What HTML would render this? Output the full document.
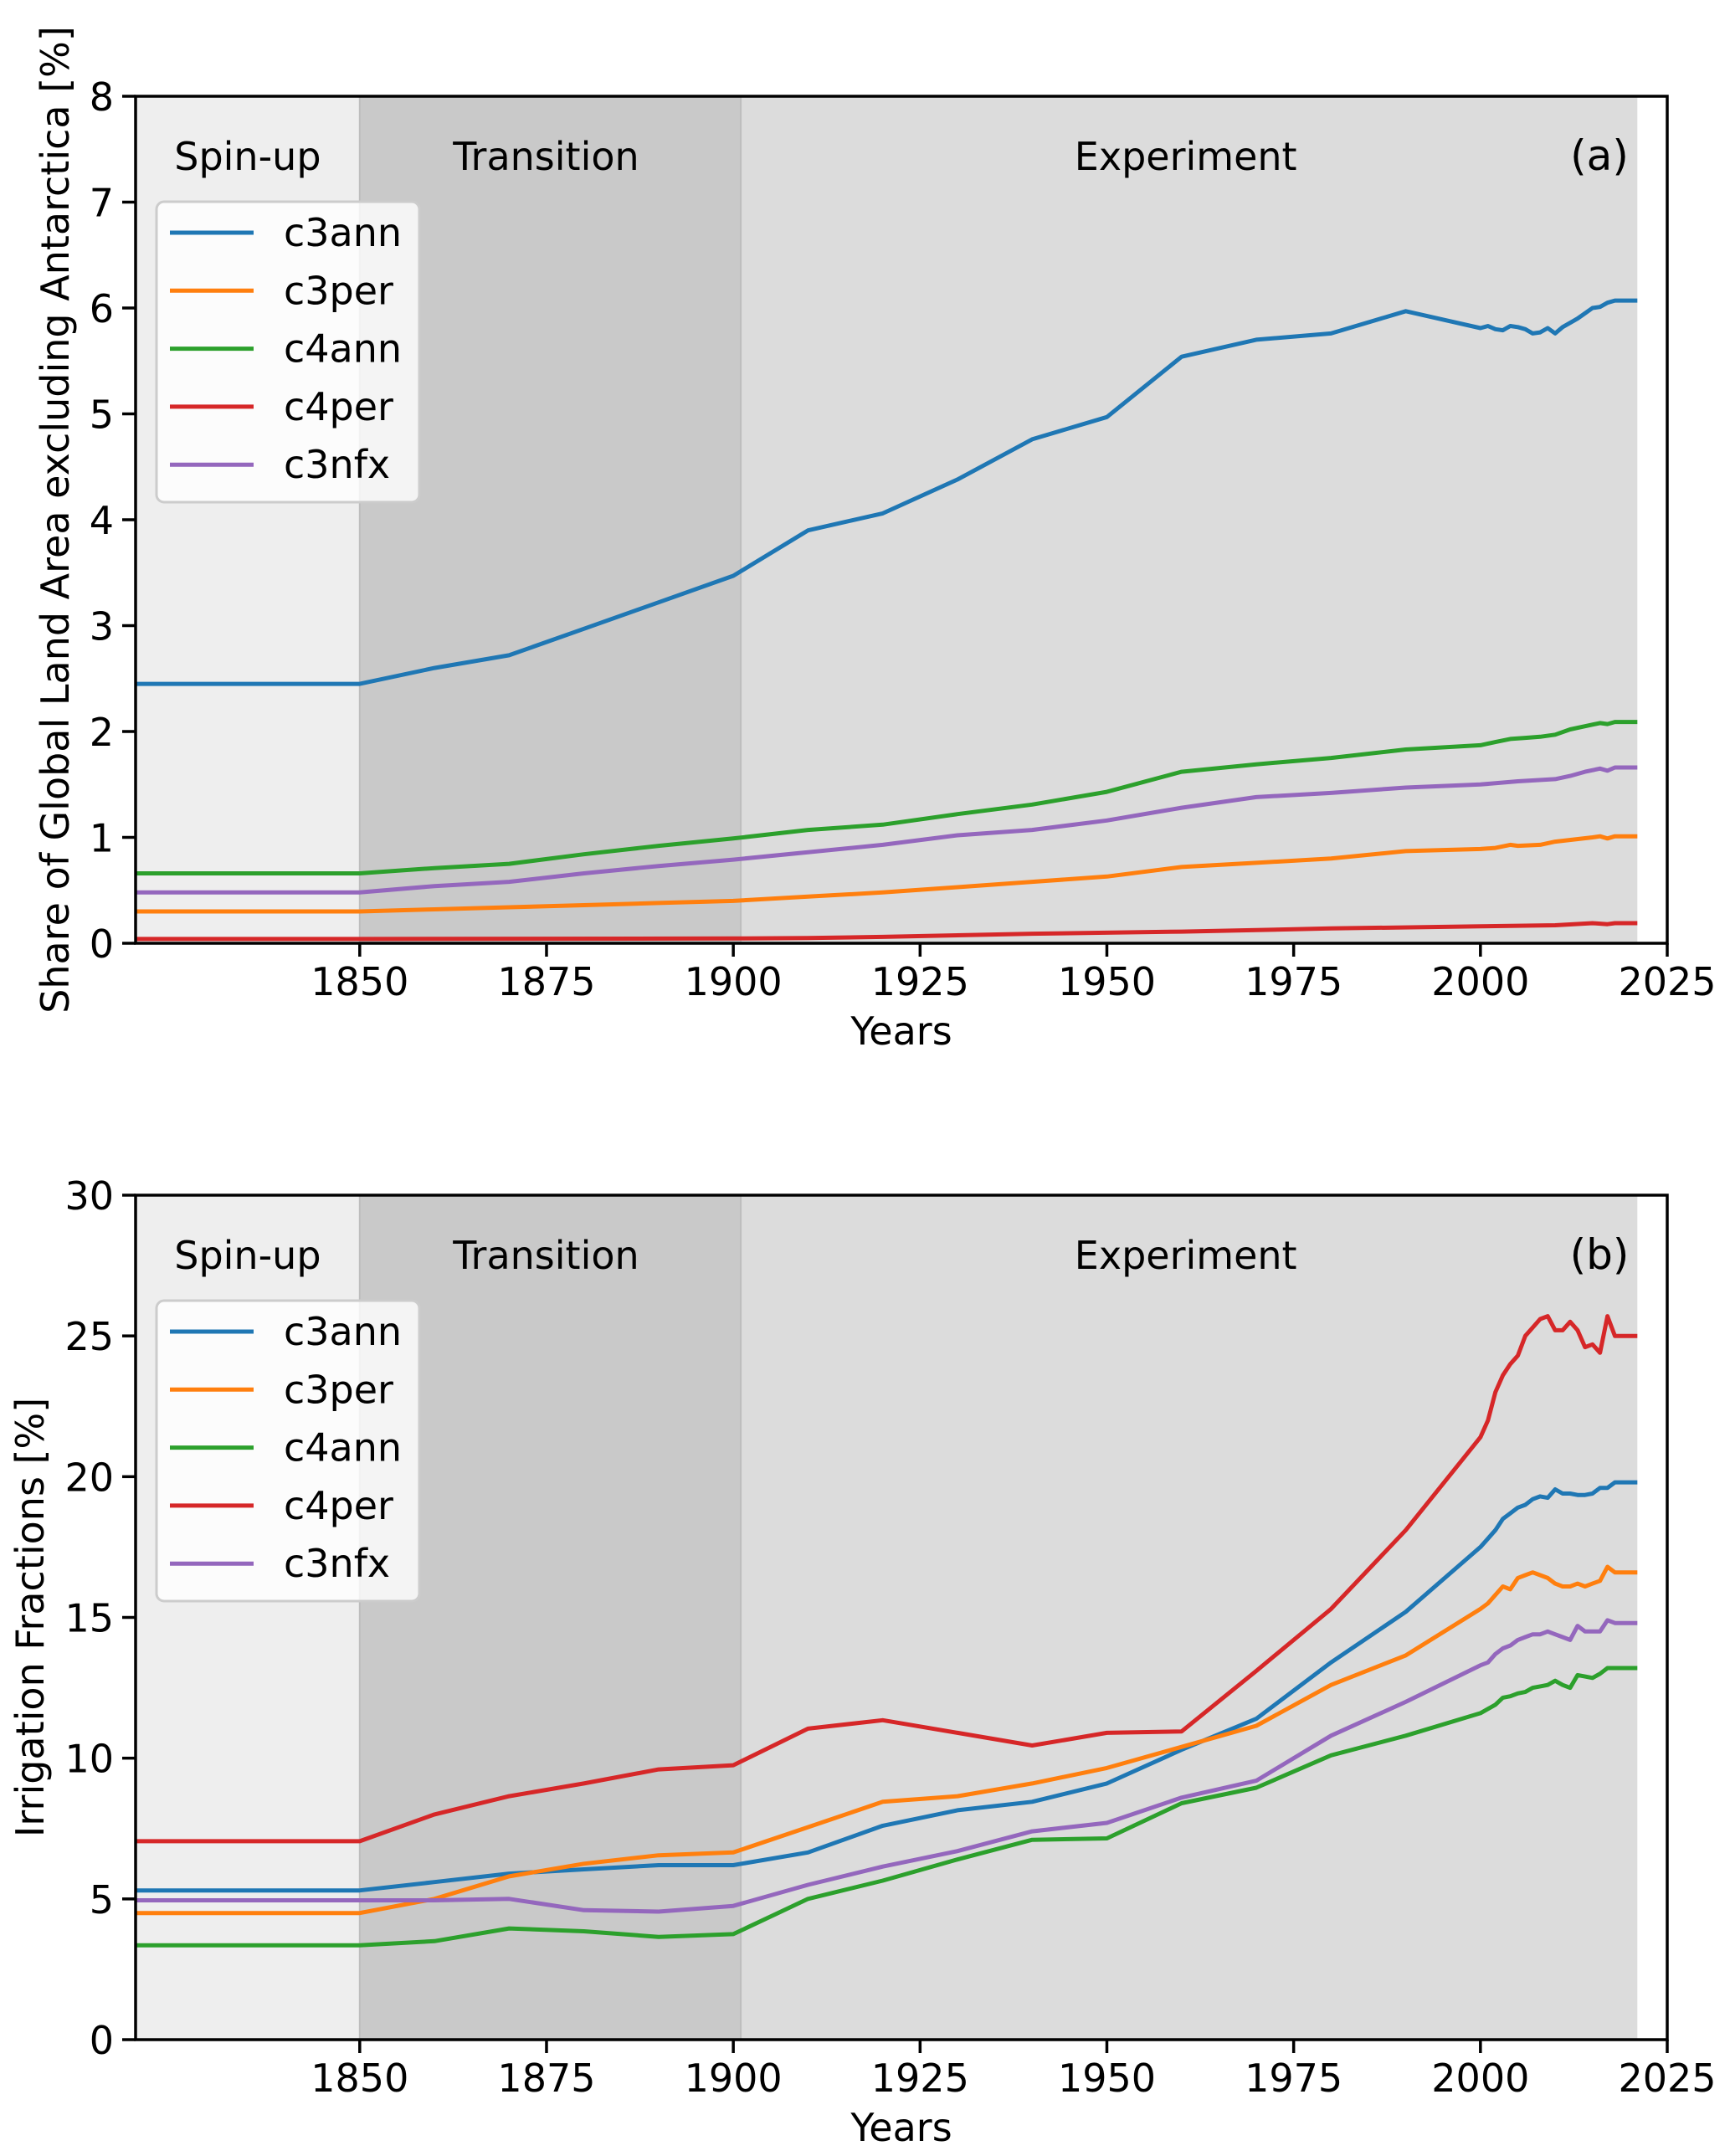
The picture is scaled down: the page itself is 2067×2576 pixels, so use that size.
<!DOCTYPE html>
<html><head><meta charset="utf-8">
<style>html,body{margin:0;padding:0;background:#fff}svg{display:block}text{font-family:"DejaVu Sans","Liberation Sans",sans-serif;fill:#000}</style>
</head><body>
<svg id="chart" width="2067" height="2576" viewBox="0 0 2067 2576" xmlns="http://www.w3.org/2000/svg"></svg>
<script>
const xTicks = [1850, 1875, 1900, 1925, 1950, 1975, 2000, 2025];
const yTicksA = [0, 1, 2, 3, 4, 5, 6, 7, 8];
const yTicksB = [0, 5, 10, 15, 20, 25, 30];
const seriesNames = ["c3ann", "c3per", "c4ann", "c4per", "c3nfx"];
const seriesColors = ["#1f77b4", "#ff7f0e", "#2ca02c", "#d62728", "#9467bd"];
const periodNames = ["Spin-up", "Transition", "Experiment"];
const periodBounds = [1820, 1850, 1901, 2021];

const a_c3ann_years = [1820,1850,1860,1870,1880,1890,1900,1910,1920,1930,1940,1950,1960,1970,1980,1990,2000,2001,2002,2003,2004,2005,2006,2007,2008,2009,2010,2011,2012,2013,2014,2015,2016,2017,2018,2021];
const a_c3ann_vals  = [2.45,2.45,2.6,2.72,2.97,3.22,3.47,3.9,4.06,4.38,4.76,4.97,5.54,5.7,5.76,5.97,5.81,5.83,5.8,5.79,5.83,5.82,5.8,5.76,5.77,5.81,5.76,5.82,5.86,5.9,5.95,6.0,6.01,6.05,6.07,6.07];
const a_c3per_years = [1820,1850,1860,1870,1880,1890,1900,1910,1920,1930,1940,1950,1960,1970,1980,1990,2000,2002,2004,2005,2008,2010,2015,2016,2017,2018,2021];
const a_c3per_vals  = [0.3,0.3,0.32,0.34,0.36,0.38,0.4,0.44,0.48,0.53,0.58,0.63,0.72,0.76,0.8,0.87,0.89,0.9,0.93,0.92,0.93,0.96,1.0,1.01,0.99,1.01,1.01];
const a_c4ann_years = [1820,1850,1860,1870,1880,1890,1900,1910,1920,1930,1940,1950,1960,1970,1980,1990,2000,2002,2004,2006,2008,2010,2012,2014,2016,2017,2018,2021];
const a_c4ann_vals  = [0.66,0.66,0.71,0.75,0.84,0.92,0.99,1.07,1.12,1.22,1.31,1.43,1.62,1.69,1.75,1.83,1.87,1.9,1.93,1.94,1.95,1.97,2.02,2.05,2.08,2.07,2.09,2.09];
const a_c4per_years = [1820,1850,1900,1910,1920,1940,1960,1980,2000,2010,2015,2017,2018,2021];
const a_c4per_vals  = [0.04,0.04,0.045,0.05,0.06,0.09,0.11,0.14,0.16,0.17,0.19,0.18,0.19,0.19];
const a_c3nfx_years = [1820,1850,1860,1870,1880,1890,1900,1910,1920,1930,1940,1950,1960,1970,1980,1990,2000,2005,2010,2012,2014,2016,2017,2018,2021];
const a_c3nfx_vals  = [0.48,0.48,0.54,0.58,0.66,0.73,0.79,0.86,0.93,1.02,1.07,1.16,1.28,1.38,1.42,1.47,1.5,1.53,1.55,1.58,1.62,1.65,1.63,1.66,1.66];

const b_years = [1820,1850,1860,1870,1880,1890,1900,1910,1920,1930,1940,1950,1960,1970,1980,1990,2000,2001,2002,2003,2004,2005,2006,2007,2008,2009,2010,2011,2012,2013,2014,2015,2016,2017,2018,2021];
const b_c3ann_vals = [5.3,5.3,5.6,5.9,6.05,6.2,6.2,6.65,7.6,8.15,8.45,9.1,10.3,11.4,13.4,15.2,17.5,17.8,18.1,18.5,18.7,18.9,19.0,19.2,19.3,19.25,19.55,19.4,19.4,19.35,19.35,19.4,19.6,19.6,19.8,19.8];
const b_c3per_vals = [4.5,4.5,5.0,5.8,6.25,6.55,6.65,7.55,8.45,8.65,9.1,9.65,10.4,11.15,12.6,13.65,15.3,15.5,15.8,16.1,16.0,16.4,16.5,16.6,16.5,16.4,16.2,16.1,16.1,16.2,16.1,16.2,16.3,16.8,16.6,16.6];
const b_c4ann_vals = [3.35,3.35,3.5,3.95,3.85,3.65,3.75,5.0,5.65,6.4,7.1,7.15,8.4,8.95,10.1,10.8,11.6,11.75,11.9,12.15,12.2,12.3,12.35,12.5,12.55,12.6,12.75,12.6,12.5,12.95,12.9,12.85,13.0,13.2,13.2,13.2];
const b_c4per_vals = [7.05,7.05,8.0,8.65,9.1,9.6,9.75,11.05,11.35,10.9,10.45,10.9,10.95,13.1,15.3,18.1,21.4,22.0,23.0,23.6,24.0,24.3,25.0,25.3,25.6,25.7,25.2,25.2,25.5,25.2,24.6,24.7,24.4,25.7,25.0,25.0];
const b_c3nfx_vals = [4.95,4.95,4.95,5.0,4.6,4.55,4.75,5.5,6.15,6.7,7.4,7.7,8.6,9.2,10.8,12.0,13.3,13.4,13.7,13.9,14.0,14.2,14.3,14.4,14.4,14.5,14.4,14.3,14.2,14.7,14.5,14.5,14.5,14.9,14.8,14.8];

const NS = "http://www.w3.org/2000/svg";
const svg = document.getElementById("chart");
const L = 162, R = 1992, X0 = 1820, X1 = 2025;
const xs = y => L + (y - X0) / (X1 - X0) * (R - L);
const labelShift = [0, -5, -4];

function mk(tag, attrs, parent) {
  const e = document.createElementNS(NS, tag);
  for (const k in attrs) e.setAttribute(k, attrs[k]);
  (parent || svg).appendChild(e);
  return e;
}

function panel(id, top, bottom, ymax, yTicks, ylabel, ylabelX, tag, series) {
  const g = mk("g", {});
  
  
  const ys = v => bottom - v / ymax * (bottom - top);
  const fills = ["#eeeeee", "#c9c9c9", "#dcdcdc"];
  for (let i = 0; i < 3; i++) {
    const r = mk("rect", {x: xs(periodBounds[i]), y: top, width: xs(periodBounds[i+1]) - xs(periodBounds[i]), height: bottom - top, fill: fills[i]}, g);
    
    
    if (i > 0) mk("line", {x1: xs(periodBounds[i]), x2: xs(periodBounds[i]), y1: top, y2: bottom, stroke: "#bdbdbd", "stroke-width": 2}, g);
    const t = mk("text", {x: (xs(periodBounds[i]) + xs(periodBounds[i+1])) / 2 + labelShift[i], y: top + 88, "font-size": 46, "text-anchor": "middle"}, g);
    t.textContent = periodNames[i];
    
    
  }
  const tl = mk("text", {x: 1911, y: top + 88, "font-size": 50, "text-anchor": "middle"}, g);
  tl.textContent = tag;
  
  
  series.forEach((s, i) => {
    const pts = s.years.map((yr, j) => xs(yr).toFixed(1) + "," + ys(s.vals[j]).toFixed(1)).join(" ");
    const p = mk("polyline", {points: pts, fill: "none", stroke: seriesColors[i], "stroke-width": 5, "stroke-linejoin": "round"}, g);
    
    
  });
  const lg = mk("g", {}, g);
  
  
  const lt = top + 126;
  mk("rect", {x: 187, y: lt, width: 314, height: 359, rx: 9, fill: "#ffffff", "fill-opacity": 0.8, stroke: "#cccccc", "stroke-width": 3}, lg);
  seriesNames.forEach((n, i) => {
    const yy = lt + 37 + i * 69.3;
    const e = mk("g", {}, lg);
    
    
    mk("line", {x1: 203, x2: 303, y1: yy, y2: yy, stroke: seriesColors[i], "stroke-width": 5}, e);
    const t = mk("text", {x: 339, y: yy + 16, "font-size": 46}, e);
    t.textContent = n;
  });
  const sp = mk("rect", {x: L, y: top, width: R - L, height: bottom - top, fill: "none", stroke: "#000", "stroke-width": 3.5}, g);
  
  
  const xa = mk("g", {}, g);
  
  
  xTicks.forEach(v => {
    mk("line", {x1: xs(v), x2: xs(v), y1: bottom, y2: bottom + 16, stroke: "#000", "stroke-width": 3.5}, xa);
    const t = mk("text", {x: xs(v), y: bottom + 62, "font-size": 46, "text-anchor": "middle"}, xa);
    t.textContent = v;
  });
  const xl = mk("text", {x: (L + R) / 2, y: bottom + 121, "font-size": 46, "text-anchor": "middle"}, g);
  xl.textContent = "Years";
  
  
  const ya = mk("g", {}, g);
  
  
  yTicks.forEach(v => {
    mk("line", {x1: L - 16, x2: L, y1: ys(v), y2: ys(v), stroke: "#000", "stroke-width": 3.5}, ya);
    const t = mk("text", {x: L - 26, y: ys(v) + 17, "font-size": 46, "text-anchor": "end"}, ya);
    t.textContent = v;
  });
  const yl = mk("text", {x: ylabelX, y: (top + bottom) / 2, "font-size": 46, "text-anchor": "middle", transform: "rotate(-90 " + ylabelX + " " + (top + bottom) / 2 + ")"}, g);
  yl.textContent = ylabel;
  
  
}

panel("a", 115, 1127, 8, yTicksA, "Share of Global Land Area excluding Antarctica [%]", 82, "(a)", [
  {years: a_c3ann_years, vals: a_c3ann_vals},
  {years: a_c3per_years, vals: a_c3per_vals},
  {years: a_c4ann_years, vals: a_c4ann_vals},
  {years: a_c4per_years, vals: a_c4per_vals},
  {years: a_c3nfx_years, vals: a_c3nfx_vals}
]);
panel("b", 1428, 2437, 30, yTicksB, "Irrigation Fractions [%]", 52, "(b)", [
  {years: b_years, vals: b_c3ann_vals},
  {years: b_years, vals: b_c3per_vals},
  {years: b_years, vals: b_c4ann_vals},
  {years: b_years, vals: b_c4per_vals},
  {years: b_years, vals: b_c3nfx_vals}
]);
</script>
</body></html>
